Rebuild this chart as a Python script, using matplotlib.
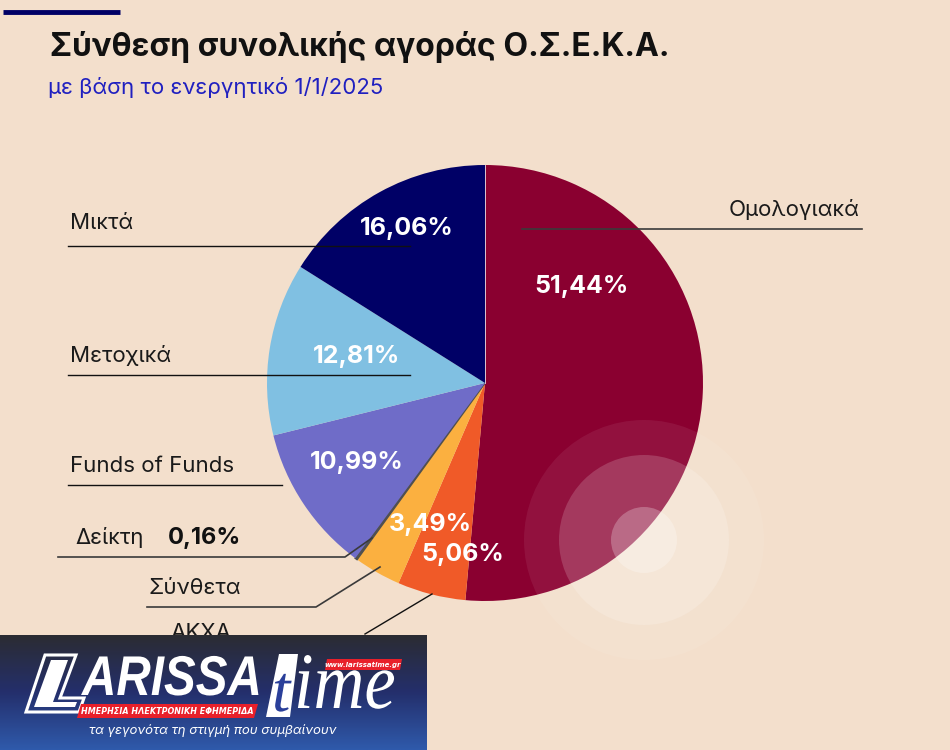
import numpy as np
import matplotlib.pyplot as plt
from matplotlib.patches import Circle, Polygon, PathPatch
from matplotlib.colors import LinearSegmentedColormap
from matplotlib.textpath import TextPath
from matplotlib.font_manager import FontProperties
from matplotlib.transforms import Affine2D

labels = ['Ομολογιακά', 'ΑΚΧΑ', 'Σύνθετα', 'Δείκτη', 'Funds of Funds', 'Μετοχικά', 'Μικτά']
shares = [51.44, 5.06, 3.49, 0.16, 10.99, 12.81, 16.06]
colors = ['#8a0030', '#f05a28', '#fbb040', '#505050', '#6f6cc8', '#80c0e2', '#000066']

BG = '#f3dfcc'
W, H = 950, 750

plt.rcParams['font.family'] = ['Inter', 'DejaVu Sans']

fig = plt.figure(figsize=(9.5, 7.5), dpi=100, facecolor=BG)
ax = fig.add_axes([0, 0, 1, 1])
ax.set_facecolor(BG)


def Y(y):
    return H - y


def path_text(s, x, y, size, prop, sx=1.0, color='white', z=11):
    # text drawn as a path in pixel units, baseline at (x, y), squeezed by sx
    tp = TextPath((0, 0), s, size=size, prop=prop)
    tr = Affine2D().scale(sx, 1.0).translate(x, Y(y))
    ax.add_patch(PathPatch(tr.transform_path(tp), facecolor=color, edgecolor='none', zorder=z))


# pie
wedges, _ = ax.pie(shares, center=(485, Y(383)), radius=218, startangle=90, counterclock=False,
                   colors=colors, wedgeprops=dict(linewidth=0))
# the tiny index slice gets an edge so it shows as a thin dark line
wedges[3].set_edgecolor(colors[3])
wedges[3].set_linewidth(1.2)
ax.plot([485, 485], [Y(383), Y(165)], color='#e8e4ea', lw=0.6, zorder=2)
ax.set_xlim(0, W)
ax.set_ylim(0, H)
ax.set_aspect('auto')
ax.axis('off')

# decorative rings
cx, cy = 644, Y(540)
for r, a in [(120, 0.07), (85, 0.17), (33, 0.25)]:
    ax.add_patch(Circle((cx, cy), r, facecolor='white', alpha=a, edgecolor='none', zorder=3))

# top accent line and titles
ax.plot([3, 120], [Y(12), Y(12)], color='#000066', lw=3.5, solid_capstyle='butt')
ax.text(50, Y(47), 'Σύνθεση συνολικής αγοράς Ο.Σ.Ε.Κ.Α.', fontsize=23, fontweight='bold',
        color='#111111', va='center', ha='left')
ax.text(48, Y(87), 'με βάση το ενεργητικό 1/1/2025', fontsize=16, color='#2020c0',
        va='center', ha='left')


def pct(v):
    return f'{v:.2f}%'.replace('.', ',')


# percentage labels inside slices
inside = {0: (582, 287), 1: (463, 554), 2: (430, 525), 4: (357, 462), 5: (357, 357), 6: (407, 228)}
for i, (px, py) in inside.items():
    ax.text(px, Y(py), pct(shares[i]), fontsize=18, fontweight='bold', color='white',
            ha='center', va='center', zorder=5)

# outside labels and leader lines
lc = '#3a3a3a'
tc = '#1a1a1a'
ax.text(860, Y(210), labels[0], fontsize=16, ha='right', va='center', color=tc)
ax.plot([522, 862], [Y(229), Y(229)], color=lc, lw=1.2, zorder=4)

ax.text(70, Y(223), labels[6], fontsize=16, ha='left', va='center', color=tc)
ax.plot([68, 410], [Y(246), Y(246)], color='#111111', lw=1.0, zorder=4)

ax.text(70, Y(355), labels[5], fontsize=16, ha='left', va='center', color=tc)
ax.plot([68, 410], [Y(375), Y(375)], color='#111111', lw=1.0, zorder=4)

ax.text(70, Y(466), labels[4], fontsize=16, ha='left', va='center', color=tc)
ax.plot([68, 282], [Y(485), Y(485)], color='#111111', lw=1.0, zorder=4)

ax.text(75, Y(538), labels[3], fontsize=16, ha='left', va='center', color=tc)
ax.text(168, Y(538), pct(shares[3]), fontsize=17, fontweight='bold', ha='left', va='center',
        color='#111111')
ax.plot([58, 345, 372], [Y(557), Y(557), Y(538)], color=lc, lw=1.2, zorder=4)

ax.text(148, Y(588), labels[2], fontsize=16, ha='left', va='center', color=tc)
ax.plot([147, 316, 380], [Y(607), Y(607), Y(567)], color=lc, lw=1.2, zorder=4)

ax.text(170, Y(633), labels[1], fontsize=16, ha='left', va='center', color=tc)
ax.plot([365, 432], [Y(634), Y(594)], color='#111111', lw=1.0, zorder=4)

# logo box
grad = np.linspace(0, 1, 100).reshape(-1, 1)
cmap = LinearSegmentedColormap.from_list('logo', ['#2b2c33', '#242f6c', '#2f5aab'])
ax.imshow(grad, extent=(0, 427, Y(750), Y(635)), cmap=cmap, aspect='auto', zorder=10,
          origin='upper')
ax.set_xlim(0, W)
ax.set_ylim(0, H)

sans_bi = FontProperties(family='Liberation Sans', weight='bold', style='italic')
serif_i = FontProperties(family='Liberation Serif', style='italic')

# "L" block
ax.add_patch(Polygon([[45, Y(655)], [76, Y(655)], [60, Y(698)], [84, Y(698)],
                      [79, Y(712)], [26, Y(712)]],
                     closed=True, facecolor='none', edgecolor='white', lw=2.2, zorder=11))
ax.add_patch(Polygon([[51, Y(660)], [68, Y(660)], [53, Y(702)], [77, Y(702)],
                      [75, Y(707)], [34, Y(707)]],
                     closed=True, facecolor='white', edgecolor='none', zorder=11))
path_text('ARISSA', 82, 695, 56, sans_bi, sx=0.85)

ax.add_patch(Polygon([[81, Y(704)], [258, Y(704)], [254, Y(718)], [77, Y(718)]],
                     closed=True, facecolor='#e8202a', edgecolor='none', zorder=11))
ax.text(167, Y(711), 'ΗΜΕΡΗΣΙΑ ΗΛΕΚΤΡΟΝΙΚΗ ΕΦΗΜΕΡΙΔΑ', fontsize=5.8, fontweight='bold',
        fontstyle='italic', color='white', ha='center', va='center', zorder=12,
        family='DejaVu Sans')

# "time"
ax.add_patch(Polygon([[279, Y(654)], [298, Y(654)], [290, Y(717)], [266, Y(717)]],
                     closed=True, facecolor='white', edgecolor='none', zorder=11))
path_text('t', 272, 711, 66, serif_i, color='#2a3f9a', z=12)
path_text('ime', 294, 708, 80, serif_i, sx=0.88)

ax.add_patch(Polygon([[327, Y(659)], [402, Y(659)], [400, Y(670)], [325, Y(670)]],
                     closed=True, facecolor='#e8202a', edgecolor='none', zorder=11))
ax.text(363, Y(664.5), 'www.larissatime.gr', fontsize=5.0, fontweight='bold', fontstyle='italic',
        color='white', ha='center', va='center', zorder=12, family='DejaVu Sans')
ax.text(213, Y(731), 'τα γεγονότα τη στιγμή που συμβαίνουν', fontsize=9.5, fontstyle='italic',
        color='white', ha='center', va='center', zorder=11)

fig.savefig('out.png', dpi=100, facecolor=BG)
